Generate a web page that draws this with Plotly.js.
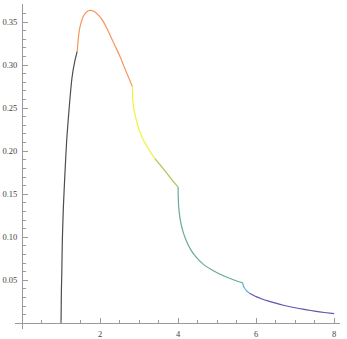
<!DOCTYPE html>
<html>
<head>
<meta charset="utf-8">
<script src="https://cdn.plot.ly/plotly-3.0.1.min.js"></script>
<style>html,body{margin:0;padding:0;background:#fff;}#chart{width:347px;height:339px;}</style>
</head>
<body>
<div id="chart"></div>
<script>
// Segment data
const seg1X = [1.0, 1.008, 1.02, 1.034, 1.06, 1.10, 1.145, 1.21, 1.28, 1.35, 1.414];
const seg1Y = [0.0, 0.035, 0.060, 0.097, 0.135, 0.174, 0.213, 0.251, 0.285, 0.304, 0.316];

const seg2X = [1.414, 1.47, 1.57, 1.66, 1.75, 1.84, 1.915, 2.0, 2.085, 2.17, 2.256, 2.34, 2.43, 2.52, 2.60, 2.70, 2.828];
const seg2Y = [0.316, 0.341, 0.3565, 0.3620, 0.3635, 0.3625, 0.3600, 0.3560, 0.3505, 0.3430, 0.3350, 0.3265, 0.3180, 0.3090, 0.3000, 0.2890, 0.2750];

const seg3X = [2.828, 2.835, 2.855, 2.90, 2.96, 3.03, 3.11, 3.20, 3.28, 3.36, 3.41];
const seg3Y = [0.275, 0.2640, 0.2520, 0.2420, 0.2310, 0.2210, 0.2130, 0.2060, 0.1995, 0.1945, 0.1910];

const seg4X = [3.41, 3.55, 3.71, 3.85, 4.0];
const seg4Y = [0.1910, 0.1835, 0.1745, 0.1665, 0.1585];

const seg5X = [4.0, 4.004, 4.02, 4.06, 4.13, 4.22, 4.33, 4.48, 4.65, 4.85, 5.05, 5.25, 5.45, 5.657];
const seg5Y = [0.1585, 0.146, 0.133, 0.119, 0.106, 0.095, 0.085, 0.076, 0.0685, 0.0625, 0.0575, 0.0535, 0.0500, 0.0470];

const seg6X = [5.657, 5.67, 5.71, 5.76, 5.83];
const seg6Y = [0.0470, 0.0440, 0.0405, 0.0375, 0.0350];

const seg7X = [5.83, 6.0, 6.15, 6.3, 6.5, 6.7, 6.9, 7.1, 7.3, 7.5, 7.75, 8.0];
const seg7Y = [0.0350, 0.0310, 0.0283, 0.0260, 0.0234, 0.0210, 0.0190, 0.0172, 0.0156, 0.0142, 0.0126, 0.0112];

const segColors = ['#4d4d4d', '#f7955a', '#f2f23c', '#aac452', '#6aa89e', '#5ab0ee', '#6455a8'];

const xTicks = [2, 4, 6, 8];
const yTicks = [0.05, 0.10, 0.15, 0.20, 0.25, 0.30, 0.35];
const yTickText = ['0.05', '0.10', '0.15', '0.20', '0.25', '0.30', '0.35'];

const xRange = [-0.18, 8.15];
const yRange = [-0.0066, 0.371];

const segs = [[seg1X, seg1Y], [seg2X, seg2Y], [seg3X, seg3Y], [seg4X, seg4Y], [seg5X, seg5Y], [seg6X, seg6Y], [seg7X, seg7Y]];
const traces = segs.map((s, i) => ({
  x: s[0], y: s[1], type: 'scatter', mode: 'lines',
  line: {color: segColors[i], width: 1.2, shape: 'spline', smoothing: 0.6},
  hoverinfo: 'skip', showlegend: false
}));

const xPos = (0 - yRange[0]) / (yRange[1] - yRange[0]);
const yPos = (0 - xRange[0]) / (xRange[1] - xRange[0]);
const tickFont = {family: 'Liberation Serif, Times New Roman, serif', size: 8.5, color: '#444'};

const layout = {
  width: 347, height: 339,
  margin: {l: 15, r: 7, t: 4, b: 10, pad: 0},
  paper_bgcolor: '#fff', plot_bgcolor: '#fff',
  showlegend: false,
  xaxis: {
    range: xRange, anchor: 'free', position: xPos,
    showgrid: false, zeroline: false,
    showline: true, linecolor: '#9a9a9a', linewidth: 1,
    ticks: 'inside', ticklen: 5, tickcolor: '#9a9a9a', tickwidth: 1,
    tickvals: xTicks, ticktext: xTicks.map(String),
    tickfont: tickFont, ticklabelstandoff: 2,
    minor: {dtick: 0.5, tick0: 0, ticks: 'inside', ticklen: 3, tickcolor: '#9a9a9a', showgrid: false}
  },
  yaxis: {
    range: yRange, anchor: 'free', position: yPos,
    showgrid: false, zeroline: false,
    showline: true, linecolor: '#9a9a9a', linewidth: 1,
    ticks: 'inside', ticklen: 5, tickcolor: '#9a9a9a', tickwidth: 1,
    tickvals: yTicks, ticktext: yTickText,
    tickfont: tickFont, ticklabelstandoff: 3,
    minor: {dtick: 0.01, tick0: 0, ticks: 'inside', ticklen: 3, tickcolor: '#9a9a9a', showgrid: false}
  }
};

Plotly.newPlot('chart', traces, layout, {staticPlot: true, displayModeBar: false});
</script>
</body>
</html>
